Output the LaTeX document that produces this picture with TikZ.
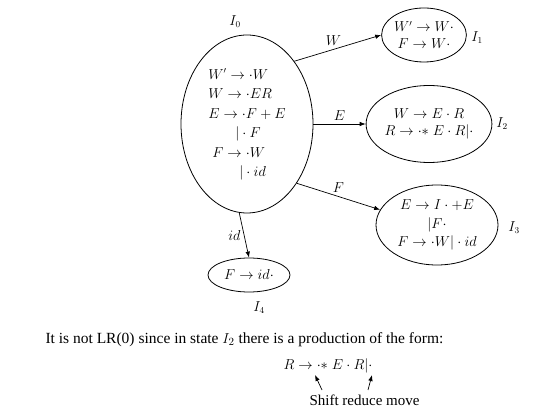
\documentclass[tikz,border=0pt]{standalone}
\usepackage{fontspec}
\setmainfont{Liberation Serif}
\usetikzlibrary{shapes,arrows.meta,positioning}

\begin{document}
\begin{tikzpicture}[
    x=1pt, y=-1pt,
    state/.style={ellipse, draw, line width=0.8pt, inner sep=0pt, align=center, font=\fontsize{13.5}{17}\selectfont},
    arrow/.style={-{Latex[length=6pt,width=4.5pt]}, line width=0.7pt},
    lbl/.style={font=\fontsize{13.5}{15}\selectfont}
]
\useasboundingbox (0,0) rectangle (557,419);

% Start state
\node[state, minimum width=132, minimum height=178] (i0) at (247,124)
    {$\renewcommand{\arraystretch}{1.15}\begin{array}{@{}l@{}}
      W'\to\cdot W\\
      W\to\cdot ER\\
      E\to\cdot F+E\\
      \qquad|\cdot F\\
      \;F\to\cdot W\\
      \qquad\;|\cdot id
    \end{array}$};
\node[lbl] (l0) at (235,22) {$I_0$};

% Goto states
\node[state, minimum width=82, minimum height=54] (i1) at (424,35) {$W'\to W\cdot$\\$F\to W\cdot$};
\node[lbl] (l1) at (477,38) {$I_1$};

\node[state, minimum width=118, minimum height=77] (i2) at (429,124) {$W\to E\cdot R$\\$R\to\cdot{*}\;E\cdot R|\cdot$};
\node[lbl] (l2) at (502,124) {$I_2$};

\node[state, minimum width=122, minimum height=80, font=\fontsize{13.5}{18.5}\selectfont] (i3) at (437,225) {$E\to I\cdot{+}E$\\$|F\cdot$\\$F\to\cdot W|\cdot id$};
\node[lbl] (l3) at (514,228) {$I_3$};

\node[state, minimum width=82, minimum height=34] (i4) at (249,275) {$F\to id\cdot$};
\node[lbl] (l4) at (259,308) {$I_4$};

% Transitions
\draw[arrow] (i0.53) -- (i1.west) node[lbl, pos=0.45, above] {$W$};
\draw[arrow] (i0.east) -- (i2.west) node[lbl, midway, above] {$E$};
\draw[arrow] (i0.-50) -- (i3.165) node[lbl, pos=0.5, above] {$F$};
\draw[arrow] (i0.265) -- (i4.north) node[lbl, midway, left] {$id$};

% Remark
\node[anchor=west, font=\fontsize{15.5}{18}\selectfont] (remark) at (42,340) {It is not LR(0) since in state $I_2$ there is a production of the form:};
\node[font=\fontsize{14}{16}\selectfont] (prod) at (328,366) {$R\to\cdot{*}\;E\cdot R|\cdot$};
\node[anchor=west, font=\fontsize{15}{17}\selectfont] (shift) at (306,400) {Shift reduce move};
\coordinate (t1) at (322,390);
\coordinate (d1) at (315,375);
\coordinate (t2) at (368,390);
\coordinate (d2) at (372,375);
\draw[arrow] (t1) -- (d1);
\draw[arrow] (t2) -- (d2);

\end{tikzpicture}
\end{document}
